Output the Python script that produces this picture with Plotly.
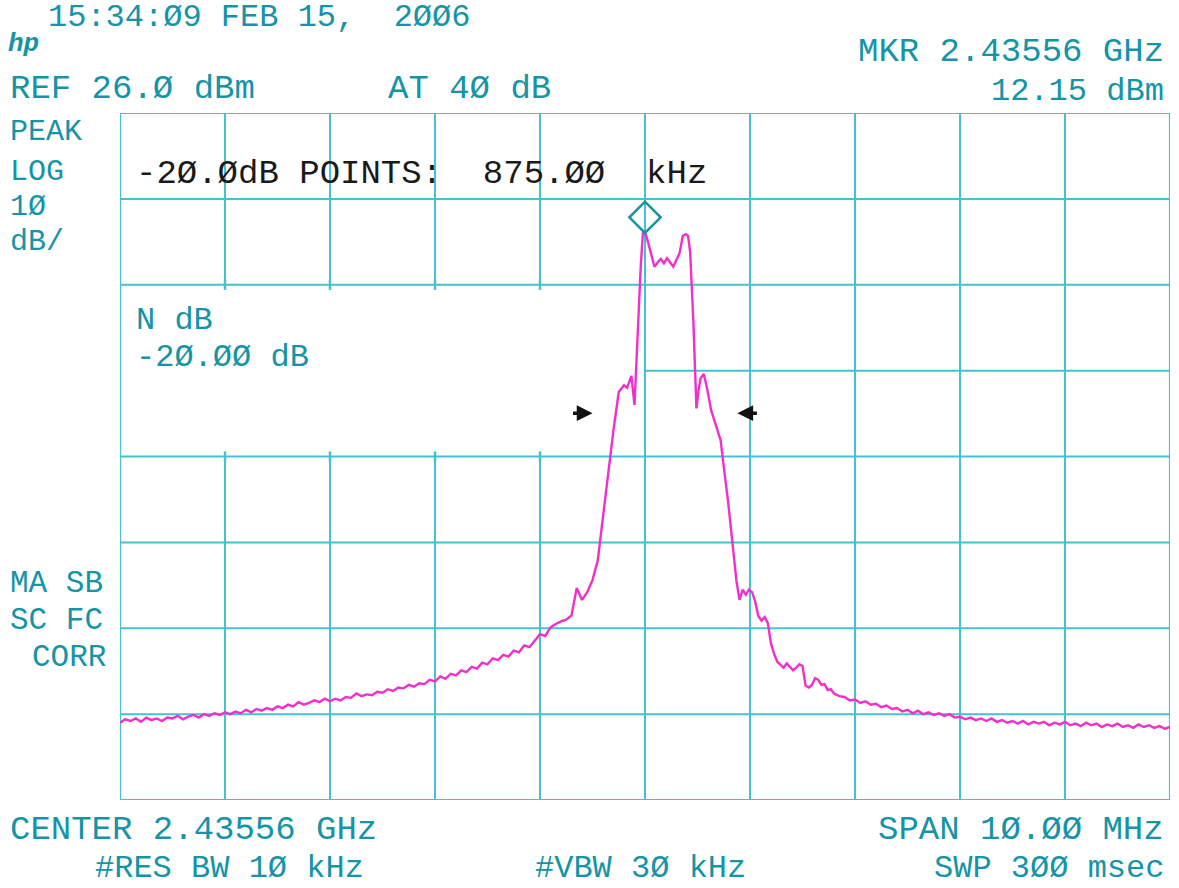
import plotly.graph_objects as go

# ---------------- data (frequency offset from centre in MHz, level in dBm) ----------------
center_ghz = 2.43556
span_mhz = 10.0
ref_dbm = 26.0
db_per_div = 10.0
mkr_dbm = 12.15

freq_left = [-5.00, -4.95, -4.90, -4.85, -4.80, -4.75, -4.70, -4.65, -4.60, -4.55,
             -4.50, -4.45, -4.40, -4.35, -4.30, -4.25, -4.20, -4.15, -4.10, -4.05,
             -4.00, -3.95, -3.90, -3.85, -3.80, -3.75, -3.70, -3.65, -3.60, -3.55,
             -3.50, -3.45, -3.40, -3.35, -3.30, -3.25, -3.20, -3.15, -3.10, -3.05,
             -3.00, -2.95, -2.90, -2.85, -2.80, -2.75, -2.70, -2.65, -2.60, -2.55,
             -2.50, -2.45, -2.40, -2.35, -2.30, -2.25, -2.20, -2.15, -2.10, -2.05,
             -2.00, -1.95, -1.90, -1.85, -1.80, -1.75, -1.70, -1.65, -1.60, -1.55,
             -1.50, -1.45, -1.40, -1.35, -1.30, -1.25, -1.20, -1.15, -1.10, -1.05,
             -1.00, -0.95, -0.90, -0.85, -0.80, -0.75, -0.70]
level_left = [-45.0, -44.6, -44.8, -44.5, -44.9, -44.4, -44.7, -44.5, -44.8, -44.4,
              -44.5, -44.2, -44.6, -44.3, -44.1, -44.4, -44.0, -44.2, -43.9, -44.1,
              -43.8, -44.0, -43.7, -43.9, -43.5, -43.8, -43.4, -43.6, -43.3, -43.5,
              -43.1, -43.3, -42.9, -43.1, -42.6, -42.9, -42.7, -42.4, -42.6, -42.2,
              -42.5, -42.2, -42.4, -42.0, -42.1, -41.6, -41.9, -41.7, -41.8, -41.4,
              -41.5, -41.1, -41.3, -40.9, -41.0, -40.6, -40.8, -40.4, -40.5, -40.0,
              -40.2, -39.6, -39.9, -39.3, -39.5, -38.9, -39.1, -38.5, -38.7, -38.0,
              -38.2, -37.5, -37.7, -37.1, -37.3, -36.6, -36.8, -36.0, -36.2, -35.5,
              -34.7, -34.9, -33.9, -33.5, -33.2, -33.0, -32.5]

freq_center = [-0.65, -0.60, -0.55, -0.50, -0.45, -0.40, -0.35, -0.30, -0.25, -0.20,
               -0.17, -0.13, -0.10, -0.07, -0.04, -0.02, 0.00, 0.03, 0.06, 0.09,
               0.12, 0.15, 0.18, 0.21, 0.24, 0.27, 0.30, 0.33, 0.36, 0.39,
               0.41, 0.43, 0.46, 0.49, 0.51, 0.53, 0.56, 0.59, 0.63, 0.67,
               0.72, 0.76, 0.79, 0.83, 0.87]
level_center = [-29.3, -30.7, -29.8, -28.4, -26.1, -20.8, -15.6, -10.9, -6.5, -5.7,
                -6.0, -4.6, -8.0, 0.7, 8.3, 12.0, 12.15, 10.9, 9.5, 8.1,
                8.6, 9.0, 8.5, 9.1, 8.6, 8.1, 8.9, 9.7, 11.7, 11.9,
                11.7, 9.8, 1.9, -8.4, -6.3, -4.9, -4.4, -6.0, -8.6, -10.1,
                -12.1, -16.2, -19.1, -23.7, -28.4]

freq_right = [0.90, 0.93, 0.96, 0.99, 1.02, 1.05, 1.08, 1.11, 1.14, 1.17,
              1.20, 1.23, 1.26, 1.29, 1.32, 1.35, 1.38, 1.41, 1.44, 1.47,
              1.50, 1.53, 1.56, 1.59, 1.62, 1.65, 1.68, 1.71, 1.74, 1.77,
              1.80, 1.85, 1.90, 1.95, 2.00, 2.05, 2.10, 2.15, 2.20, 2.25,
              2.30, 2.35, 2.40, 2.45, 2.50, 2.55, 2.60, 2.65, 2.70, 2.75,
              2.80, 2.85, 2.90, 2.95, 3.00, 3.05, 3.10, 3.15, 3.20, 3.25,
              3.30, 3.35, 3.40, 3.45, 3.50, 3.55, 3.60, 3.65, 3.70, 3.75,
              3.80, 3.85, 3.90, 3.95, 4.00, 4.05, 4.10, 4.15, 4.20, 4.25,
              4.30, 4.35, 4.40, 4.45, 4.50, 4.55, 4.60, 4.65, 4.70, 4.75,
              4.80, 4.85, 4.90, 4.95, 5.00]
level_right = [-30.7, -29.5, -30.1, -29.5, -29.8, -30.9, -32.6, -33.1, -32.7, -33.4,
               -35.8, -37.0, -37.9, -38.3, -38.6, -38.1, -38.5, -38.9, -38.6, -38.2,
               -38.4, -40.7, -40.9, -40.6, -39.8, -40.0, -40.6, -40.5, -41.2, -41.1,
               -41.6, -41.9, -42.0, -42.4, -42.3, -42.7, -42.5, -42.9, -42.8, -43.2,
               -43.0, -43.4, -43.3, -43.7, -43.5, -43.9, -43.6, -44.0, -43.8, -44.1,
               -43.9, -44.2, -44.0, -44.4, -44.3, -44.6, -44.4, -44.7, -44.5, -44.8,
               -44.5, -44.9, -44.7, -45.0, -44.8, -45.1, -44.8, -45.2, -44.9, -45.1,
               -44.9, -45.3, -45.0, -45.2, -44.9, -45.3, -45.1, -45.4, -45.0, -45.3,
               -45.1, -45.5, -45.2, -45.4, -45.1, -45.5, -45.3, -45.6, -45.2, -45.5,
               -45.3, -45.6, -45.4, -45.7, -45.5]

freq = freq_left + freq_center + freq_right
level = level_left + level_center + level_right

# ---------------- style ----------------
W, H = 1179, 888
L, R, T, B = 120, 1170, 113, 800
GRID = "#45c2d2"
TEAL = "#1594a8"
MAG = "#f22fcb"
FONT = "Liberation Mono"
FS = 34

x_lo, x_hi = -span_mhz / 2, span_mhz / 2
y_hi = ref_dbm
y_lo = ref_dbm - 8 * db_per_div

fig = go.Figure()

# grid lines as shapes (with the blanked text window)
shapes = []
line = dict(color=GRID, width=2)
blank_x = (x_lo, 0.0)
blank_y = (ref_dbm - 2 * db_per_div, ref_dbm - 4 * db_per_div)
for i in range(1, 10):
    xv = x_lo + i * span_mhz / 10
    if xv < blank_x[1] - 1e-9:
        shapes.append(dict(type="line", x0=xv, x1=xv, y0=blank_y[0], y1=y_hi, line=line, layer="below"))
        shapes.append(dict(type="line", x0=xv, x1=xv, y0=y_lo, y1=blank_y[1], line=line, layer="below"))
        for yy in blank_y:
            shapes.append(dict(type="line", x0=xv, x1=xv, y0=yy - 0.6, y1=yy + 0.6,
                               line=dict(color=GRID, width=2.5), layer="below"))
    else:
        shapes.append(dict(type="line", x0=xv, x1=xv, y0=y_lo, y1=y_hi, line=line, layer="below"))
for j in range(1, 8):
    yv = y_hi - j * db_per_div
    if blank_y[1] < yv < blank_y[0]:
        shapes.append(dict(type="line", x0=blank_x[1], x1=x_hi, y0=yv, y1=yv, line=line, layer="below"))
    else:
        shapes.append(dict(type="line", x0=x_lo, x1=x_hi, y0=yv, y1=yv, line=line, layer="below"))
shapes.append(dict(type="rect", x0=x_lo, x1=x_hi, y0=y_lo, y1=y_hi,
                   line=dict(color=GRID, width=2.2), layer="below"))

fig.add_trace(go.Scatter(x=freq, y=level, mode="lines",
                         line=dict(color=MAG, width=2.4), hoverinfo="skip"))

# marker diamond above the peak
fig.add_trace(go.Scatter(x=[0.0], y=[mkr_dbm + 1.7], mode="markers",
                         marker=dict(symbol="diamond-open", size=24, color=TEAL,
                                     line=dict(color=TEAL, width=2.5)),
                         hoverinfo="skip"))


def px(xp):
    return (xp - L) / (R - L)


def py(yp):
    return (B - yp) / (B - T)


ann = []


def txt(s, x, y, anchor="left", color=TEAL, size=FS):
    ann.append(dict(text=s, x=px(x), y=py(y), xref="paper", yref="paper",
                    xanchor=anchor, yanchor="middle", showarrow=False,
                    font=dict(family=FONT, size=size, color=color)))


txt("15:34:Ø9 FEB 15,  2ØØ6", 46, 18, size=32)
txt("<i><b>hp</b></i>", 6, 44, size=26)
txt("MKR 2.43556 GHz", 1166, 52)
ann[-1]["xanchor"] = "right"
txt("REF 26.Ø dBm", 8, 89)
txt("AT 4Ø dB", 386, 89)
txt("12.15 dBm", 1166, 91, anchor="right", size=32)
txt("PEAK", 8, 132, size=30)
txt("LOG", 8, 172, size=30)
txt("1Ø", 8, 207, size=30)
txt("dB/", 8, 242, size=30)
txt("-2Ø.ØdB POINTS:  875.ØØ  kHz", 134, 174, color="#1a1a1a")
txt("N dB", 134, 320, size=32)
txt("-2Ø.ØØ dB", 134, 357, size=32)
txt("MA SB", 8, 583, size=31)
txt("SC FC", 8, 620, size=31)
txt("CORR", 30, 657, size=31)
txt("CENTER 2.43556 GHz", 8, 830)
txt("#RES BW 1Ø kHz", 93, 868, size=32)
txt("#VBW 3Ø kHz", 533, 868, size=32)
txt("SPAN 1Ø.ØØ MHz", 1166, 830, anchor="right")
txt("SWP 3ØØ msec", 1166, 868, anchor="right", size=32)

# -20 dB point arrows
arrow_y = mkr_dbm - 21.1
ann.append(dict(x=-0.50, y=arrow_y, xref="x", yref="y", ax=-21, ay=0, text="",
                showarrow=True, arrowhead=2, arrowsize=0.9, arrowwidth=3.5, arrowcolor="#111"))
ann.append(dict(x=0.88, y=arrow_y, xref="x", yref="y", ax=21, ay=0, text="",
                showarrow=True, arrowhead=2, arrowsize=0.9, arrowwidth=3.5, arrowcolor="#111"))

fig.update_layout(
    width=W, height=H,
    margin=dict(l=L, r=W - R, t=T, b=H - B),
    paper_bgcolor="white", plot_bgcolor="white",
    showlegend=False,
    shapes=shapes,
    annotations=ann,
    xaxis=dict(range=[x_lo, x_hi], showgrid=False, zeroline=False, showticklabels=False,
               ticks="", showline=False, fixedrange=True),
    yaxis=dict(range=[y_lo, y_hi], showgrid=False, zeroline=False, showticklabels=False,
               ticks="", showline=False, fixedrange=True),
)

fig.write_html("out.html", config={"displayModeBar": False})
